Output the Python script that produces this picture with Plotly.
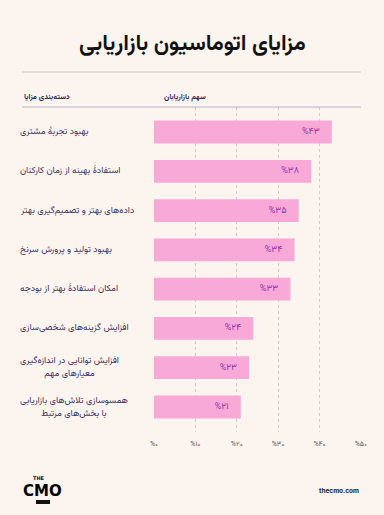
import plotly.graph_objects as go

# ---------------- data ----------------
categories = [
    "بهبود تجربهٔ مشتری",
    "استفادهٔ بهینه از زمان کارکنان",
    "داده‌های بهتر و تصمیم‌گیری بهتر",
    "بهبود تولید و پرورش سرنخ",
    "امکان استفادهٔ بهتر از بودجه",
    "افزایش گزینه‌های شخصی‌سازی",
    "افزایش توانایی در اندازه‌گیری<br>معیارهای مهم",
    "همسوسازی تلاش‌های بازاریابی<br>با بخش‌های مرتبط",
]
values = [43, 38, 35, 34, 33, 24, 23, 21]
tick_values = [0, 10, 20, 30, 40, 50]
tick_labels = ["%۰", "%۱۰", "%۲۰", "%۳۰", "%۴۰", "%۵۰"]
bar_labels = ["%۴۳", "%۳۸", "%۳۵", "%۳۴", "%۳۳", "%۲۴", "%۲۳", "%۲۱"]

title_text = "مزایای اتوماسیون بازاریابی"
header_left = "دسته‌بندی مزایا"
header_right = "سهم بازاریابان"

# ---------------- layout constants ----------------
W, H = 384, 515
PL, PR = 154, 361   # plot area x pixels
PT, PB = 107, 432   # plot area y pixels
BG = "#fcf5ef"
FONT = "Vazirmatn, 'Noto Sans Arabic', 'DejaVu Sans', sans-serif"
TXT = "#3a2d63"


def px(x):
    return (x - PL) / (PR - PL)


def py(y):
    return (PB - y) / (PB - PT)


idx = list(range(len(categories)))

fig = go.Figure()
fig.add_trace(go.Bar(
    x=values,
    y=idx,
    orientation="h",
    width=0.58,
    marker=dict(color="#f9a9d8", line=dict(width=0)),
    text=bar_labels,
    texttemplate="%{text}\u2003",
    textposition="inside",
    insidetextanchor="end",
    textfont=dict(family=FONT, size=9, color="#8a34a8"),
    hoverinfo="skip",
))

annotations = []
# category labels (multi-line labels: lines centred on each other)
for i, c in enumerate(categories):
    styled = "<br>".join(
        "<span style='font-size:9px'>%s</span>" % ln for ln in c.split("<br>")
    )
    annotations.append(dict(
        x=px(18), xref="paper", y=i, yref="y",
        text=styled, showarrow=False,
        xanchor="left", yanchor="middle", align="center",
        font=dict(family=FONT, size=10, color=TXT),
    ))

# title
annotations.append(dict(
    x=px(192), xref="paper", y=py(45), yref="paper",
    text="<b>" + title_text + "</b>", showarrow=False,
    xanchor="center", yanchor="middle",
    font=dict(family=FONT, size=22, color="#111111"),
))
# headers
annotations.append(dict(
    x=px(22), xref="paper", y=py(97), yref="paper",
    text="<b>" + header_left + "</b>", showarrow=False,
    xanchor="left", yanchor="middle",
    font=dict(family=FONT, size=7.5, color="#2d1b5a"),
))
annotations.append(dict(
    x=px(162), xref="paper", y=py(97), yref="paper",
    text="<b>" + header_right + "</b>", showarrow=False,
    xanchor="left", yanchor="middle",
    font=dict(family=FONT, size=7.5, color="#2d1b5a"),
))
# footer
annotations.append(dict(
    x=px(361), xref="paper", y=py(491), yref="paper",
    text="<b>thecmo.com</b>", showarrow=False,
    xanchor="right", yanchor="middle",
    font=dict(family="Inter, 'DejaVu Sans', sans-serif", size=6.5, color="#222222"),
))
annotations.append(dict(
    x=px(39), xref="paper", y=py(478), yref="paper",
    text="<b>THE</b>", showarrow=False,
    xanchor="center", yanchor="middle",
    font=dict(family="'DejaVu Sans', sans-serif", size=5, color="#111111"),
))
annotations.append(dict(
    x=px(43), xref="paper", y=py(491), yref="paper",
    text="<b>CMO</b>", showarrow=False,
    xanchor="center", yanchor="middle",
    font=dict(family="'DejaVu Sans', sans-serif", size=15, color="#000000"),
))

shapes = [
    # top separator
    dict(type="line", xref="paper", yref="paper", x0=px(22), x1=px(361),
         y0=py(72), y1=py(72), line=dict(color="#d9d3d1", width=1.5)),
    # header underline
    dict(type="line", xref="paper", yref="paper", x0=px(22), x1=px(361),
         y0=py(107), y1=py(107), line=dict(color="#b9b0bf", width=1)),
    # logo bar
    dict(type="rect", xref="paper", yref="paper", x0=px(36), x1=px(50),
         y0=py(504), y1=py(500), line=dict(width=0), fillcolor="#111111"),
]

fig.update_layout(
    width=W, height=H,
    margin=dict(l=PL, r=W - PR, t=PT, b=H - PB, pad=0),
    paper_bgcolor=BG, plot_bgcolor=BG,
    showlegend=False,
    bargap=0.4,
    annotations=annotations,
    shapes=shapes,
    font=dict(family=FONT),
)
fig.update_xaxes(
    range=[0, 50.05], tickvals=tick_values, ticktext=tick_labels,
    showgrid=True, gridcolor="#cfc9c9", griddash="dot", gridwidth=1,
    zeroline=False, showline=False,
    ticks="outside", ticklen=5, tickcolor="rgba(0,0,0,0)",
    tickfont=dict(family=FONT, size=7, color="#555555"),
    fixedrange=True,
)
fig.update_yaxes(
    range=[7.636, -0.636], showticklabels=False, showgrid=False,
    zeroline=False, showline=False, fixedrange=True,
)

fig.write_html(
    "out.html",
    config={"displayModeBar": False},
    post_script="document.body.style.margin='0';document.body.style.background='%s';" % BG,
)
